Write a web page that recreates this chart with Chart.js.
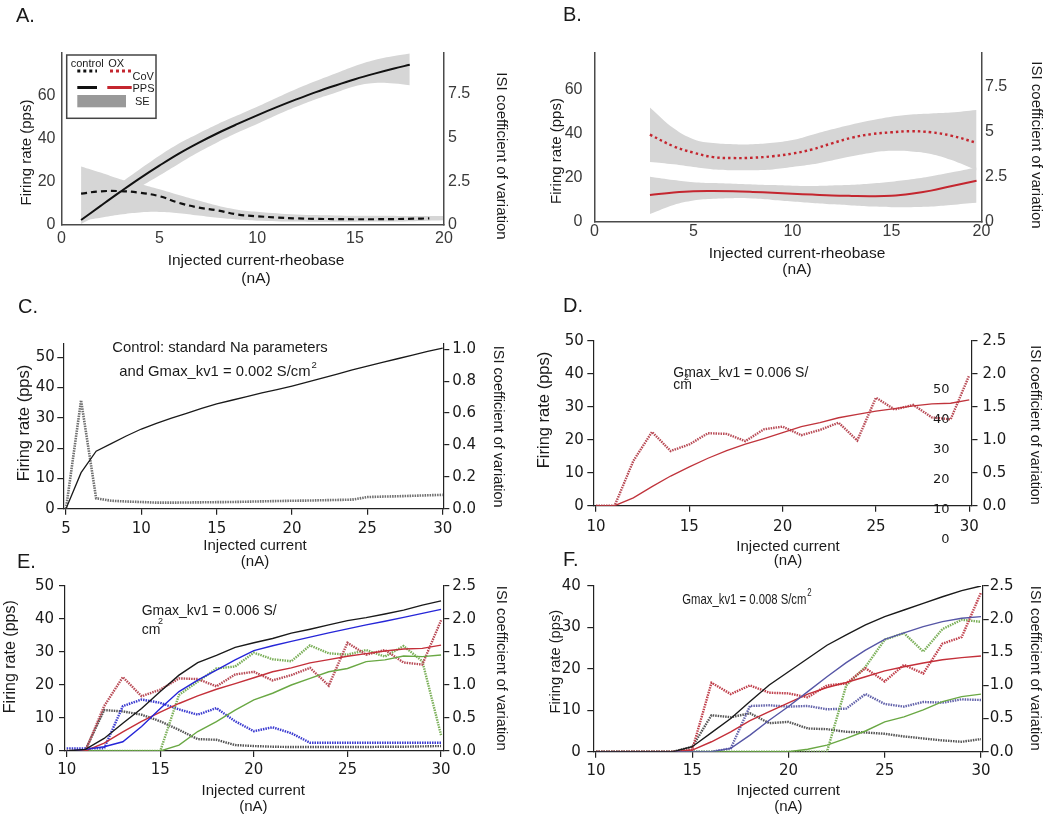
<!DOCTYPE html>
<html>
<head>
<meta charset="utf-8">
<script src="https://cdn.jsdelivr.net/npm/chart.js@4.4.0/dist/chart.umd.min.js"></script>
<style>
body{margin:0;background:#fff;width:1050px;height:819px;overflow:hidden;position:relative}
canvas{position:absolute;left:0;top:0}
</style>
</head>
<body>
<canvas id="cA" width="1050" height="819"></canvas>
<canvas id="cB" width="1050" height="819"></canvas>
<canvas id="cC" width="1050" height="819"></canvas>
<canvas id="cD" width="1050" height="819"></canvas>
<canvas id="cE" width="1050" height="819"></canvas>
<canvas id="cF" width="1050" height="819"></canvas>
<script>
/* ---- DATA ---- */
// A. control, smoothed fits (x = injected current - rheobase, nA)
const aPpsX = [1,2,3,4,5,6,7,8,9,10,11,12,13,14,15,16,17,17.8]
const aPps = [2.3,8.9,15.4,21.7,27.6,33.2,38.2,42.8,47,51,54.8,58.4,61.8,64.9,67.8,70.4,72.8,74.5]
const aPpsLo = [0.5,5.5,11.5,17.5,23,28.5,33.8,38.6,43,47,51.2,55,58.5,61.5,64.5,66,65.8,65]
const aPpsHi = [5.5,12.2,19.3,25.9,32.2,37.9,42.6,47,51,55,59.2,63.3,67,70.5,74,76.8,78.6,79.8]
const aCovX = [1,2,3,4,5,6,7,8,9,10,11,12,13,14,15,16,17,18,18.8]
const aCov = [1.8,1.93,1.94,1.85,1.65,1.27,1.0,0.83,0.6,0.5,0.43,0.38,0.35,0.34,0.33,0.33,0.34,0.36,0.38]
const aCovBandX = [1,2,3,4,5,6,7,8,9,10,12,14,16,18,19.5]
const aCovLo = [0.25,0.42,0.6,0.72,0.75,0.68,0.55,0.42,0.32,0.25,0.2,0.19,0.2,0.22,0.27]
const aCovHi = [3.35,3.0,2.62,2.35,2.05,1.72,1.4,1.1,0.88,0.76,0.6,0.55,0.53,0.52,0.52]

// B. OX, smoothed fits
const bX = [2.8,4,5,6,7,8,9,10,11,12,13,14,15,16,17,18,19.3]
const bPps = [12.2,13.3,13.9,14.0,13.9,13.6,13.2,12.8,12.4,12.0,11.8,11.7,11.9,12.8,14.2,16.2,18.7]
const bPpsLo = [3.6,7.7,9.7,10.5,10.8,10.6,10.0,9.3,8.6,8.0,7.5,7.0,6.7,6.7,7.0,7.7,8.7]
const bPpsHi = [20.5,19.0,18.0,17.6,17.3,17.0,16.7,16.4,16.3,16.5,16.8,17.4,18.2,19.3,20.7,22.4,24.7]
const bCov = [4.85,4.2,3.85,3.6,3.55,3.57,3.65,3.8,4.03,4.37,4.68,4.88,4.98,5.04,4.98,4.8,4.4]
const bCovLo = [3.33,3.2,3.05,2.92,2.88,2.88,2.92,3.05,3.2,3.42,3.65,3.85,3.95,3.92,3.78,3.45,2.87]
const bCovHi = [6.36,5.2,4.6,4.38,4.32,4.32,4.4,4.55,4.85,5.15,5.42,5.65,5.85,5.97,6.03,6.08,6.22]

// C. model, standard Na, Gmax_kv1 = 0.002
const cX = [5,6,7,8,9,10,11,12,13,14,15,16,17,18,19,20,21,22,23,24,25,26,27,28,29,30]
const cRate = [0,11.9,19,21.5,24,26.3,28.2,29.9,31.5,33.1,34.6,35.8,37,38.2,39.3,40.5,41.8,43.1,44.4,45.8,47.1,48.3,49.5,50.7,51.9,53]
const cCov = [0,0.68,0.065,0.05,0.045,0.042,0.038,0.038,0.039,0.04,0.041,0.042,0.044,0.046,0.048,0.05,0.051,0.053,0.055,0.057,0.073,0.076,0.078,0.081,0.084,0.087]

// D-F. model, injected current 10..30 nA
const mX = [10,11,12,13,14,15,16,17,18,19,20,21,22,23,24,25,26,27,28,29,30]
const redRate = [0,0,2.4,5.8,9,11.8,14.4,16.7,18.7,20.4,22.2,24,25.2,26.7,27.7,28.7,29.5,30.3,30.9,31.1,32.1]
const redCov = [0,0,0.68,1.12,0.83,0.93,1.1,1.09,0.98,1.16,1.2,1.07,1.15,1.26,0.99,1.64,1.46,1.53,1.34,1.31,1.98]
const eBlackRate = [0,0.5,3.8,8.4,12.9,18,23,26.8,29,31.4,32.8,34.1,35.7,36.9,38.2,39.5,40.4,41.5,42.7,44.2,45.5]
const eBlueRate = [0,0.5,1.3,2.8,7.4,12.9,18,21.5,24.5,27.6,30.4,31.9,33.2,34.5,35.8,37,38.2,39.3,40.5,41.7,42.9]
const eGreenRate = [0,0,0,0,0,0,1.8,5.9,8.9,12.4,15.5,17.5,20,22,24,25,27.1,27.6,28.8,28.6,29.1]
const eBlackCov = [0,0.015,0.62,0.6,0.55,0.45,0.32,0.18,0.17,0.09,0.075,0.065,0.06,0.06,0.06,0.06,0.06,0.065,0.065,0.07,0.075]
const eBlueCov = [0.04,0.04,0.04,0.68,0.78,0.73,0.63,0.55,0.65,0.45,0.3,0.36,0.27,0.125,0.125,0.125,0.125,0.125,0.125,0.125,0.125]
const eGreenCov = [0,0,0,0,0,0,0.85,1.05,1.25,1.28,1.49,1.39,1.36,1.6,1.48,1.46,1.53,1.43,1.59,1.36,0.24]
const fBlackRate = [0,0,0,0,0,1.2,4.6,8,12.1,16.1,19.3,22.5,25.7,28.2,30.6,32.6,34.2,35.8,37.4,38.9,40]
const fBlueRate = [0,0,0,0,0,0,0,0.8,4,7.6,10.9,14.5,18.1,21.5,24.5,27.1,28.7,30.2,31.4,32.2,32.6]
const fRedRate = [0,0,0,0,0,0.4,2.4,4.8,7.5,9.7,11.8,13.9,15.5,16.7,18.1,19.5,20.5,21.4,22.2,22.7,23.1]
const fGreenRate = [0,0,0,0,0,0,0,0,0,0,0,0.6,1.6,3.2,5,7.2,8.4,10.1,12.1,13.3,13.9]
const fRedCov = [0,0,0,0,0,0.03,1.04,0.87,1.0,0.89,0.88,0.82,1.0,1.03,1.26,1.06,1.31,1.18,1.63,1.73,2.4]
const fBlackCov = [0,0,0,0,0,0.075,0.55,0.52,0.58,0.43,0.45,0.35,0.34,0.3,0.29,0.27,0.23,0.2,0.17,0.15,0.19]
const fBlueCov = [0,0,0,0,0,0,0,0.05,0.69,0.7,0.68,0.69,0.64,0.65,0.87,0.72,0.68,0.75,0.74,0.79,0.78]
const fGreenCov = [0,0,0,0,0,0,0,0,0,0,0,0,0,1.0,1.28,1.69,1.79,1.51,1.85,1.99,1.96]

// tick values and labels
const abTicksX = [0,5,10,15,19.55], abLabelsX = ['0','5','10','15','20']
const abTicksL = [0,20,40,60], abLabelsL = ['0','20','40','60']
const abTicksR = [0,2.5,5,7.5], abLabelsR = ['0','2.5','5','7.5']
const cTicksX = [5,10,15,20,25,30]
const cTicksL = [0,10,20,30,40,50]
const cTicksR = [0,0.2,0.4,0.6,0.8,1.0], cLabelsR = ['0.0','0.2','0.4','0.6','0.8','1.0']
const mTicksX = [10,15,20,25,30]
const deTicksL = [0,10,20,30,40,50]
const fTicksL = [0,10,20,30,40]
const mTicksR = [0,0.5,1,1.5,2,2.5], mLabelsR = ['0.0','0.5','1.0','1.5','2.0','2.5']
const dStray = ['50','40','30','20','10','0']

/* ---- HELPERS ---- */
const W = 1050, H = 819
const AW = 60, AH = 50
const ARIAL = '"Liberation Sans", Arial, sans-serif'
const DJV = '"DejaVu Sans", sans-serif'
const RED = '#c4262f', GRAY_BAND = '#d6d6d6'

Chart.defaults.animation = false
Chart.defaults.responsive = false
Chart.defaults.plugins.legend.display = false
Chart.defaults.plugins.tooltip.enabled = false
Chart.defaults.elements.point.radius = 0

const pts = (xs, ys) => xs.map((x, i) => ({x: x, y: ys[i]}))
const lbl = arr => arr.map(String)

function axis(pos, min, max, vals, labels, st){
    const vertical = pos !== 'bottom'
    return {
        type: 'linear', position: pos, min: min, max: max,
        afterBuildTicks: s => { s.ticks = vals.map(v => ({value: v})) },
        afterFit: s => { if(vertical) s.width = AW; else s.height = AH },
        ticks: {autoSkip: false, maxRotation: 0, padding: st.pad, color: st.color,
            font: {family: st.family, size: st.size}, callback: (v, i) => labels[i]},
        grid: {display: true, drawOnChartArea: false, drawTicks: st.tl > 0, tickLength: st.tl,
            color: st.line, lineWidth: st.lw},
        border: {display: true, color: st.line, width: st.lw}
    }
}

function line(data, color, w, yId, extra){
    return Object.assign({data: data, borderColor: color, borderWidth: w, yAxisID: yId,
        fill: false, tension: 0, pointRadius: 0}, extra || {})
}
// upper edge fills down to the next dataset (lower edge)
function band(xs, lo, hi, yId){
    return [
        {data: pts(xs, hi), yAxisID: yId, borderWidth: 0, borderColor: 'rgba(0,0,0,0)',
            backgroundColor: GRAY_BAND, fill: '+1', tension: 0.4, pointRadius: 0},
        {data: pts(xs, lo), yAxisID: yId, borderWidth: 0, borderColor: 'rgba(0,0,0,0)',
            fill: false, tension: 0.4, pointRadius: 0}
    ]
}

function notesPlugin(notes, draw){
    return {id: 'notes', afterDraw(chart){
        const c = chart.ctx
        notes.forEach(n => {
            c.save()
            c.translate(n.x, n.y)
            if(n.rot) c.rotate(n.rot)
            if(n.sx) c.scale(n.sx, 1)
            c.font = n.font
            c.fillStyle = n.color || '#1a1a1a'
            c.textAlign = n.align || 'center'
            c.textBaseline = n.base || 'alphabetic'
            c.fillText(n.t, 0, 0)
            if(n.sup){
                // superscript right after the text
                const w = c.measureText(n.t).width
                c.font = n.supFont
                c.fillText(n.sup, w + 1, -8)
            }
            c.restore()
        })
        if(draw) draw(c)
    }}
}

function panel(id, box, scales, datasets, notes, draw){
    new Chart(document.getElementById(id), {
        type: 'line',
        data: {datasets: datasets},
        options: {
            layout: {padding: {left: box.l - AW, right: W - box.r - AW, top: box.t, bottom: H - box.b - AH}},
            scales: scales,
            plugins: {filler: {drawTime: 'beforeDatasetsDraw'}}
        },
        plugins: [notesPlugin(notes, draw)]
    })
}

const f = (size, fam) => size + 'px ' + (fam || ARIAL)
const UP = -Math.PI / 2, DOWN = Math.PI / 2

/* ---- A ---- */
const stA = {family: ARIAL, size: 16, color: '#3a3a3a', line: '#4a4a4a', lw: 1.5, tl: 0}
panel('cA', {l: 61.5, r: 444, t: 53, b: 225}, {
    x: axis('bottom', 0, 19.55, abTicksX, abLabelsX, Object.assign({}, stA, {pad: 4})),
    y: axis('left', 0, 80, abTicksL, abLabelsL, Object.assign({}, stA, {pad: 6})),
    y1: axis('right', 0, 9.85, abTicksR, abLabelsR, Object.assign({}, stA, {pad: 4}))
}, [
    line(pts(aPpsX, aPps), '#111', 2, 'y', {tension: 0.4}),
    line(pts(aCovX, aCov), '#111', 2.2, 'y1', {tension: 0.4, borderDash: [6, 4]}),
    ...band(aPpsX, aPpsLo, aPpsHi, 'y'),
    ...band(aCovBandX, aCovLo, aCovHi, 'y1')
], [
    {t: 'A.', x: 16, y: 22, font: f(20), align: 'left'},
    {t: 'Injected current-rheobase', x: 256, y: 265, font: f(15.5)},
    {t: '(nA)', x: 256, y: 283, font: f(15.5)},
    {t: 'Firing rate (pps)', x: 27, y: 152.5, rot: UP, font: f(15), base: 'middle'},
    {t: 'ISI coefficient of variation', x: 501, y: 156, rot: DOWN, font: f(15), base: 'middle'},
    {t: 'control', x: 70.7, y: 66.5, font: f(11), align: 'left'},
    {t: 'OX', x: 108.3, y: 66.5, font: f(11), align: 'left'},
    {t: 'CoV', x: 132.5, y: 79.5, font: f(11), align: 'left'},
    {t: 'PPS', x: 132.5, y: 91.5, font: f(11), align: 'left'},
    {t: 'SE', x: 135, y: 104.5, font: f(11), align: 'left'}
], c => {
    // legend box
    c.save()
    c.strokeStyle = '#444'; c.lineWidth = 1.5
    c.strokeRect(66.7, 55, 89.3, 63.3)
    c.lineWidth = 3
    const seg = (x0, x1, y, col, dash) => {
        c.beginPath(); c.setLineDash(dash); c.strokeStyle = col
        c.moveTo(x0, y); c.lineTo(x1, y); c.stroke()
    }
    seg(77.3, 97, 71, '#111', [3, 3])
    seg(110, 131.7, 71, RED, [3, 3])
    seg(77.3, 97, 87.5, '#111', [])
    seg(107.3, 131.7, 87.5, RED, [])
    c.fillStyle = '#999'
    c.fillRect(77.3, 95, 48.7, 12.3)
    c.restore()
})

/* ---- B ---- */
panel('cB', {l: 594.5, r: 981.5, t: 52.7, b: 222}, {
    x: axis('bottom', 0, 19.55, abTicksX, abLabelsX, Object.assign({}, stA, {pad: 0})),
    y: axis('left', 0, 76.6, abTicksL, abLabelsL, Object.assign({}, stA, {pad: 12})),
    y1: axis('right', 0, 9.4, abTicksR, abLabelsR, Object.assign({}, stA, {pad: 3.5}))
}, [
    line(pts(bX, bPps), RED, 2, 'y', {tension: 0.4}),
    line(pts(bX, bCov), RED, 2.4, 'y1', {tension: 0.4, borderDash: [2.5, 3]}),
    ...band(bX, bPpsLo, bPpsHi, 'y'),
    ...band(bX, bCovLo, bCovHi, 'y1')
], [
    {t: 'B.', x: 563, y: 21, font: f(20), align: 'left'},
    {t: 'Injected current-rheobase', x: 797, y: 258, font: f(15.5)},
    {t: '(nA)', x: 797, y: 273.5, font: f(15.5)},
    {t: 'Firing rate (pps)', x: 557, y: 151, rot: UP, font: f(15), base: 'middle'},
    {t: 'ISI coefficient of variation', x: 1036.5, y: 145, rot: DOWN, font: f(15), base: 'middle'}
])

/* ---- C ---- */
const stM = {family: DJV, size: 15, color: '#1a1a1a', line: '#222', lw: 1.2, tl: 6}
panel('cC', {l: 63.3, r: 443.3, t: 343.3, b: 508.7}, {
    x: axis('bottom', 4.82, 30.04, cTicksX, lbl(cTicksX), Object.assign({}, stM, {pad: 5})),
    y: axis('left', 0, 54.6, cTicksL, lbl(cTicksL), Object.assign({}, stM, {pad: 2.5})),
    y1: axis('right', 0, 1.038, cTicksR, cLabelsR, Object.assign({}, stM, {pad: 3}))
}, [
    line(pts(cX, cRate), '#1a1a1a', 1.3, 'y'),
    line(pts(cX, cCov), '#6e6e6e', 2.6, 'y1', {borderDash: [1.5, 1]})
], [
    {t: 'C.', x: 18, y: 313, font: f(20), align: 'left'},
    {t: 'Control: standard Na parameters', x: 220, y: 352, font: f(14.8)},
    {t: 'and Gmax_kv1 = 0.002 S/cm', x: 119.3, y: 376, font: f(14.8), align: 'left', sup: '2', supFont: f(9.5)},
    {t: 'Injected current', x: 255, y: 550, font: f(15)},
    {t: '(nA)', x: 255, y: 566, font: f(15)},
    {t: 'Firing rate (pps)', x: 24, y: 423, rot: UP, font: f(16.5), base: 'middle'},
    {t: 'ISI coefficient of variation', x: 498.3, y: 426.7, rot: DOWN, font: f(14.5), base: 'middle'}
])

/* ---- D ---- */
panel('cD', {l: 593.3, r: 971.5, t: 341, b: 505.7}, {
    x: axis('bottom', 9.855, 30.12, mTicksX, lbl(mTicksX), Object.assign({}, stM, {pad: 6})),
    y: axis('left', 0, 50, deTicksL, lbl(deTicksL), Object.assign({}, stM, {pad: 3.5})),
    y1: axis('right', 0, 2.5, mTicksR, mLabelsR, Object.assign({}, stM, {pad: 5}))
}, [
    line(pts(mX, redRate), '#c0343c', 1.3, 'y'),
    line(pts(mX, redCov), '#b84a55', 2.4, 'y1', {borderDash: [1.5, 1]})
], [
    {t: 'D.', x: 563, y: 312, font: f(20), align: 'left'},
    {t: 'Gmax_kv1 = 0.006 S/', x: 673.3, y: 377, font: f(14), align: 'left'},
    {t: 'cm', x: 673.3, y: 389, font: f(14), align: 'left'},
    {t: '2', x: 684, y: 380, font: f(9), align: 'left'},
    {t: 'Injected current', x: 788, y: 551, font: f(15)},
    {t: '(nA)', x: 788, y: 565, font: f(15)},
    {t: 'Firing rate (pps)', x: 544, y: 410, rot: UP, font: f(16.5), base: 'middle'},
    {t: 'ISI coefficient of variation', x: 1035, y: 425, rot: DOWN, font: f(14.3), base: 'middle'},
    ...dStray.map((t, i) => ({t: t, x: 949.5, y: 390 + i * 30, font: f(13, DJV), align: 'right', base: 'middle'}))
])

/* ---- E ---- */
const dotted = {borderDash: [1.5, 1]}
panel('cE', {l: 65, r: 443.3, t: 586, b: 751}, {
    x: axis('bottom', 9.91, 30.12, mTicksX, lbl(mTicksX), Object.assign({}, stM, {pad: 4.5})),
    y: axis('left', 0, 50, deTicksL, lbl(deTicksL), Object.assign({}, stM, {pad: 5})),
    y1: axis('right', 0, 2.5, mTicksR, mLabelsR, Object.assign({}, stM, {pad: 3}))
}, [
    line(pts(mX, eBlackRate), '#1a1a1a', 1.4, 'y'),
    line(pts(mX, eBlueRate), '#2626d8', 1.4, 'y'),
    line(pts(mX, redRate), '#c4303a', 1.4, 'y'),
    line(pts(mX, eGreenRate), '#6aa844', 1.4, 'y'),
    line(pts(mX, redCov), '#b84a55', 2.4, 'y1', dotted),
    line(pts(mX, eGreenCov), '#7cb05a', 2.4, 'y1', dotted),
    line(pts(mX, eBlueCov), '#3a3ad0', 2.4, 'y1', dotted),
    line(pts(mX, eBlackCov), '#555', 2.4, 'y1', dotted)
], [
    {t: 'E.', x: 17, y: 568, font: f(20), align: 'left'},
    {t: 'Gmax_kv1 = 0.006 S/', x: 141.7, y: 615, font: f(14), align: 'left'},
    {t: 'cm', x: 141.7, y: 634, font: f(14), align: 'left'},
    {t: '2', x: 158, y: 623.5, font: f(9), align: 'left'},
    {t: 'Injected current', x: 253.3, y: 795, font: f(15)},
    {t: '(nA)', x: 253.3, y: 811, font: f(15)},
    {t: 'Firing rate (pps)', x: 11, y: 656.7, rot: UP, font: f(16), base: 'middle'},
    {t: 'ISI coefficient of variation', x: 500.8, y: 668.3, rot: DOWN, font: f(14.8), base: 'middle'}
])

/* ---- F ---- */
panel('cF', {l: 593.3, r: 982.7, t: 586, b: 751.7}, {
    x: axis('bottom', 9.86, 30.09, mTicksX, lbl(mTicksX), Object.assign({}, stM, {pad: 4})),
    y: axis('left', 0, 40, fTicksL, lbl(fTicksL), Object.assign({}, stM, {pad: 6.5})),
    y1: axis('right', 0, 2.5, mTicksR, mLabelsR, Object.assign({}, stM, {pad: 1}))
}, [
    line(pts(mX, fBlackRate), '#1a1a1a', 1.4, 'y'),
    line(pts(mX, fBlueRate), '#5656a6', 1.4, 'y'),
    line(pts(mX, fRedRate), '#c4303a', 1.4, 'y'),
    line(pts(mX, fGreenRate), '#6aa844', 1.4, 'y'),
    line(pts(mX, fRedCov), '#c0404c', 2.4, 'y1', dotted),
    line(pts(mX, fGreenCov), '#7cb05a', 2.4, 'y1', dotted),
    line(pts(mX, fBlueCov), '#6262aa', 2.4, 'y1', dotted),
    line(pts(mX, fBlackCov), '#555', 2.4, 'y1', dotted)
], [
    {t: 'F.', x: 563, y: 566, font: f(20), align: 'left'},
    {t: 'Gmax_kv1 = 0.008 S/cm', x: 682.3, y: 604, font: f(14.5), align: 'left', sx: 0.78, sup: '2', supFont: f(10)},
    {t: 'Injected current', x: 788.3, y: 795, font: f(15)},
    {t: '(nA)', x: 788.3, y: 811, font: f(15)},
    {t: 'Firing rate (pps)', x: 556, y: 661.7, rot: UP, font: f(14.7), base: 'middle'},
    {t: 'ISI coefficient of variation', x: 1035, y: 668.3, rot: DOWN, font: f(14.8), base: 'middle'}
])
</script>
</body>
</html>
